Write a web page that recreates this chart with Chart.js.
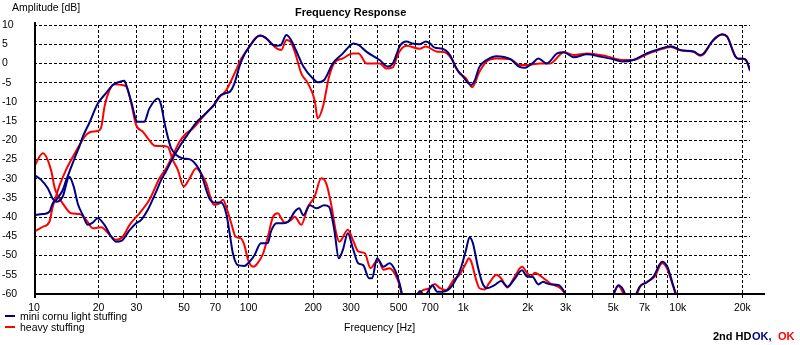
<!DOCTYPE html>
<html><head><meta charset="utf-8">
<script src="https://cdn.jsdelivr.net/npm/chart.js@4.4.1/dist/chart.umd.min.js"></script>
<style>html,body{margin:0;padding:0;background:#fff}</style>
</head><body>
<canvas id="c" width="800" height="345"></canvas>
<script>
// ---------- DATA ----------
const chartTitle = 'Frequency Response';
const yAxisTitle = 'Amplitude [dB]';
const xAxisTitle = 'Frequency [Hz]';
const seriesNames = ['mini cornu light stuffing', 'heavy stuffing'];
const statusLabel = '2nd HD';
const statusBlue = 'OK,';
const statusRed = 'OK';

const xGridValues = [10,20,30,40,50,60,70,80,90,100,200,300,400,500,600,700,800,900,1000,2000,3000,4000,5000,6000,7000,8000,9000,10000,20000];
const xTickLabels = {10:'10',20:'20',30:'30',50:'50',70:'70',100:'100',200:'200',300:'300',500:'500',700:'700',1000:'1k',2000:'2k',3000:'3k',5000:'5k',7000:'7k',10000:'10k',20000:'20k'};
const yMin = -60, yMax = 10, yStep = 5;
const xMin = 10, xMax = 21700;

// mini cornu light stuffing - response
const blueRespHz = [10,10.8,11.6,12.2,12.7,13.6,14.6,15.3,16,16.9,17.8,18.7,19.8,21.3,22.9,24.2,25.5,27.9,29.9,31.6,33.9,37,39,41.3,44,47.7,52,57.6,60,65,69,73,78.6,82,86,91,96,101,106,110,114,121,130,136,141,150,157,166,180,199,210,225,247,275,295,308,325,355,408,445,470,490,505,544,580,626,670,700,736,800,867,930,1000,1050,1090,1130,1190,1285,1430,1660,1830,1940,2100,2240,2450,2740,2940,3280,3780,4320,4990,5550,6200,7160,7960,9300,10270,11850,12730,13190,14430,15200,16070,16960,18540,19200,20270,20990,21700];
const blueRespDb = [-29,-30.3,-32.5,-35.1,-36,-34.7,-29.5,-32,-36.5,-39.5,-42,-41.5,-40.3,-42,-45.1,-46.4,-46.2,-43.4,-41.6,-40.7,-38.1,-33.5,-30.5,-28,-25,-21.6,-18.5,-15.1,-14.2,-12.3,-10.8,-8.6,-7.7,-7.3,-5.1,-0.5,2.5,4.4,6,7,7.3,6.5,4.8,4.6,4.7,7.4,6.3,3.5,-0.8,-3.9,-4.9,-4.3,0,2.6,4.5,5.2,4.8,3,0.9,-0.8,0,2.5,4.4,5.7,5.2,5,5.7,5.2,4.1,3.8,2.2,-1.3,-3.5,-5,-5.6,-4.5,-0.9,0.9,1.9,1.1,-0.9,-1.1,0,1.3,0,2.6,2.9,1.6,2.4,1.8,1.1,0.5,0.9,2.6,3.5,4.5,3.5,3.1,2.2,2.6,5.7,6.9,7.6,7,1.8,1.2,1.2,0.5,-1.7];

// mini cornu light stuffing - 2nd HD
const blueHdHz = [10,11,11.8,12.2,12.7,13.1,13.6,14.1,14.9,15.5,16.3,16.9,18.1,19.8,21.6,23.3,25,26.4,26.9,28.4,29.9,30.4,32.6,34.5,37.8,39.1,40.5,41.3,42.8,43.6,46,49.4,54,57,60,63.5,65.6,69,74.5,78.6,81.6,84.5,89,95.5,101,106.5,114,123,127,135,145,153,164,172,180,193,207,225,237,251,263,275,290,306,324,342,364,376,397,425,454,480,505,523,560,600,630,660,685,718,757,800,867,930,980,1030,1070,1110,1170,1230,1290,1400,1500,1610,1720,1880,1990,2100,2240,2360,2450,2570,2790,2940,3050,4000,4950,5280,5580,5740,6000,6300,6640,7160,7700,8450,8940,9450,9920];
const blueHdDb = [-39.5,-39.2,-38.6,-36.5,-35.5,-34.5,-33,-30.5,-27,-24.5,-21.5,-19,-15.5,-10.5,-7.8,-5.6,-4.8,-4.5,-5.6,-10,-14.8,-15.2,-15.2,-11.7,-9.1,-10.8,-15.2,-17.4,-20.8,-22.1,-23.8,-24.7,-25.1,-26.4,-28.6,-32.9,-35.1,-36.2,-36.2,-39,-44.2,-49.4,-52.5,-52.7,-51.6,-49.9,-46.8,-46.7,-43.8,-41.6,-41.6,-41.2,-38.6,-37.7,-39.5,-36.9,-37.7,-36.9,-37.3,-43.4,-50.7,-48.5,-44.2,-48.1,-52,-52.5,-55.9,-55.9,-50.7,-52.9,-52,-53.7,-57.2,-61,null,-61,-59.2,-60.5,-59.4,-57.7,-59.4,-59.4,-58.5,-55.9,-52.9,-48.6,-45.3,-46.8,-52.9,-57.2,-58.5,-57.7,-56.6,-58.1,-56.4,-53.8,-55.5,-55.5,-57.5,-56.8,-57.2,-57.5,-57.7,-59.2,-61,null,-61,-57.7,-59,-61,null,-61,-58.1,-57,-55.5,-51.6,-52.9,-57.2,-61];

// heavy stuffing - response
const redRespHz = [10,11,12,12.5,13,13.6,14.9,16.3,17.5,18.8,20.6,22.5,24.2,25.9,27.9,31,34.5,38.5,41.3,44.3,47.7,51,54.8,60,65,69,73,78.6,82.6,87,92,101,106,110,114,121,135,142,150,157,164,176,189,203,210,222,237,250,275,306,325,355,408,437,470,490,505,544,626,670,750,820,880,950,1030,1100,1190,1285,1430,1660,1830,1980,2280,2540,2840,2940,3280,3780,4650,5550,6200,7160,7960,9300,10270,11850,12730,13190,14430,15200,16070,16960,18540,19200,20270,20990,21700];
const redRespDb = [-26.9,-23.4,-27.7,-32.5,-34.7,-36.4,-39,-39.2,-40.7,-42.9,-42.6,-44.6,-45.9,-45.1,-42,-39,-35.5,-29.8,-27.3,-24,-20.3,-18.3,-17,-14.5,-12.3,-10.8,-8.8,-7,-4.7,-2,1,4.4,6.2,7,7.2,6.5,3.9,3.5,6.1,5.6,3.1,-2.6,-5.2,-9.5,-14.3,-11.3,-3.5,0,1.3,2.6,2.6,0,0,-1.3,-1,1.5,3.1,4.6,3.8,4.4,3.1,2.9,1.3,-2.2,-3.9,-6.2,-2.2,0.5,1.3,1.1,-0.4,-0.4,0,0,2.4,2.9,2.2,2.6,1.9,0.9,0.9,2.4,3.3,4.3,3.4,3,2,2.4,5.6,6.9,7.5,7,1.9,1.2,1.2,0.4,-2];

// heavy stuffing - 2nd HD
const redHdHz = [10,11,11.8,12.2,12.6,13.1,14.1,15.2,16.3,17.5,18.5,19.8,20.6,21.3,22.5,23.7,25.5,26.9,28.4,29.9,32.2,34.5,36.5,39.8,42,44.3,46.8,49.8,53,57,60,63.5,67,69,73,76,78.6,83,87,92,95.5,99.5,105,110,117,123,130,137,142,147,158,164,176,189,203,218,230,242,256,265,290,306,324,348,370,387,402,425,454,488,505,520,560,605,640,700,736,780,830,900,960,1030,1060,1090,1150,1190,1260,1320,1430,1500,1610,1720,1880,1990,2060,2160,2320,2540,2840,3100,4000,4950,5280,5700,6000,6350,6700,7200,7800,8450,8900,9450,9900];
const redHdDb = [-43.8,-42.5,-41.2,-37.5,-35,-32,-27.7,-24.2,-21.2,-18.6,-17.8,-17.6,-16.5,-11.3,-6.9,-5.4,-5.6,-6,-10.4,-16,-17.8,-20,-21.4,-21.5,-21.7,-25.1,-27.7,-32,-30,-27.3,-28.6,-31.2,-35.5,-36.8,-36.4,-35.5,-37.3,-41.6,-45.1,-45.5,-47.2,-51.2,-52.9,-52,-49.4,-45.1,-39.9,-39,-40.3,-41.4,-40.7,-39.9,-42,-37.3,-34.7,-29.9,-31.2,-36.4,-44.2,-46.4,-43.3,-45.9,-48.9,-49.4,-53.3,-52,-51.2,-53.7,-53.3,-55.5,-57.7,-61,null,-61,-59.2,-58.5,-57.4,-58.5,-59,-56.4,-55,-52,-50.7,-51.6,-56.4,-58.5,-58.8,-57.2,-55,-55.9,-58.3,-55.9,-52.9,-54.6,-55.5,-54.5,-55.5,-57.2,-58.5,-61,null,-61,-57.9,-61,null,-61,-58,-56.8,-55.5,-52,-53.3,-57.5,-61];

// ---------- STYLE ----------
const BLUE = '#000080', RED = '#ff0000';
const FONT = '"Liberation Sans", Arial, sans-serif';

function pts(xs, ys){ return xs.map((x,i)=>({x:x, y:ys[i]})); }

const frame = {
  id: 'frame',
  afterDraw(chart){
    const c = chart.ctx, a = chart.chartArea;
    c.save();
    c.fillStyle = '#000';
    c.fillRect(a.left, a.top - 3, 2, a.bottom - a.top + 7);
    c.fillRect(a.left, a.bottom - 1, 765 - a.left, 2);
    c.textAlign = 'left'; c.textBaseline = 'alphabetic';
    c.font = '10.5px ' + FONT;
    c.fillText(yAxisTitle, 12, 11);
    c.fillText(xAxisTitle, 344, 331);
    c.fillText(seriesNames[0], 20, 320);
    c.fillText(seriesNames[1], 20, 331);
    c.lineWidth = 2;
    c.strokeStyle = BLUE; c.beginPath(); c.moveTo(5,316); c.lineTo(15,316); c.stroke();
    c.strokeStyle = RED;  c.beginPath(); c.moveTo(5,327); c.lineTo(15,327); c.stroke();
    c.font = 'bold 11px ' + FONT;
    c.fillText(chartTitle, 295, 16);
    c.fillText(statusLabel, 713, 340);
    c.fillStyle = BLUE; c.fillText(statusBlue, 752, 340);
    c.fillStyle = RED;  c.fillText(statusRed, 778, 340);
    c.restore();
  }
};

const lineDs = (label, data, color) => ({
  label, data, borderColor: color, backgroundColor: color, borderWidth: 2,
  pointRadius: 0, fill: false, spanGaps: false, cubicInterpolationMode: 'monotone'
});

new Chart(document.getElementById('c'), {
  type: 'line',
  data: { datasets: [
    lineDs(seriesNames[0], pts(blueRespHz, blueRespDb), BLUE),
    lineDs(seriesNames[0] + ' 2nd HD', pts(blueHdHz, blueHdDb), BLUE),
    lineDs(seriesNames[1], pts(redRespHz, redRespDb), RED),
    lineDs(seriesNames[1] + ' 2nd HD', pts(redHdHz, redHdDb), RED)
  ]},
  options: {
    responsive: false, animation: false, devicePixelRatio: 1,
    layout: { padding: { left: 2, right: 50, top: 25, bottom: 27 } },
    plugins: { legend: { display: false }, tooltip: { enabled: false }, title: { display: false } },
    scales: {
      x: {
        type: 'logarithmic', min: xMin, max: xMax,
        afterBuildTicks: s => { s.ticks = xGridValues.map(v => ({ value: v })); },
        afterFit: s => { s.height = 24; },
        ticks: { autoSkip: false, maxRotation: 0, minRotation: 0, padding: 4, color: '#000',
                 font: { family: FONT, size: 10.5 }, callback: v => xTickLabels[v] || '' },
        grid: { color: '#000', lineWidth: 1, drawTicks: true, tickLength: 4, tickColor: '#000' },
        border: { display: false, dash: [3, 2] }
      },
      y: {
        min: yMin, max: yMax,
        afterFit: s => { s.width = 32; },
        ticks: { stepSize: yStep, crossAlign: 'far', color: '#000', padding: 0,
                 font: { family: FONT, size: 10.5 } },
        grid: { color: '#000', lineWidth: 1, drawTicks: false },
        border: { display: false, dash: [3, 2] }
      }
    }
  },
  plugins: [frame]
});
</script>
</body></html>
